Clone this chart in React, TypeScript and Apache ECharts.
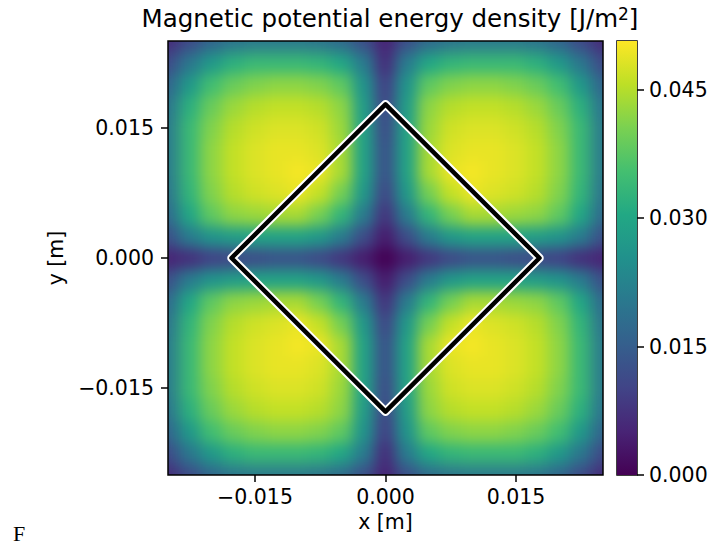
import React, { useEffect, useRef } from 'react';
import * as echarts from 'echarts';

const FONT = '"DejaVu Sans", sans-serif';

// Sampling step of the field (m) and half-width of the plotted square (m)
const STEP = 0.0025;
const HALF = 0.025;

// Energy density [J/m^2] on the first quadrant; each row is one y,
// entries run x = 0, 0.0025, ... 0.025 m. The field is symmetric in x and y.
const ROW_Y_0000 = [0.000, 0.004, 0.008, 0.011, 0.013, 0.013, 0.012, 0.011, 0.010, 0.007, 0.005];
const ROW_Y_0025 = [0.004, 0.012, 0.021, 0.027, 0.029, 0.029, 0.029, 0.028, 0.026, 0.021, 0.012];
const ROW_Y_0050 = [0.008, 0.021, 0.033, 0.040, 0.044, 0.044, 0.043, 0.042, 0.038, 0.030, 0.017];
const ROW_Y_0075 = [0.011, 0.027, 0.040, 0.046, 0.049, 0.048, 0.047, 0.045, 0.041, 0.033, 0.019];
const ROW_Y_0100 = [0.013, 0.029, 0.044, 0.049, 0.050, 0.049, 0.048, 0.046, 0.042, 0.034, 0.020];
const ROW_Y_0125 = [0.013, 0.029, 0.044, 0.048, 0.049, 0.049, 0.048, 0.046, 0.042, 0.034, 0.020];
const ROW_Y_0150 = [0.012, 0.029, 0.043, 0.047, 0.048, 0.048, 0.047, 0.045, 0.041, 0.034, 0.020];
const ROW_Y_0175 = [0.011, 0.028, 0.042, 0.045, 0.046, 0.046, 0.045, 0.043, 0.039, 0.032, 0.019];
const ROW_Y_0200 = [0.010, 0.026, 0.038, 0.041, 0.042, 0.042, 0.041, 0.039, 0.035, 0.027, 0.016];
const ROW_Y_0225 = [0.007, 0.021, 0.030, 0.033, 0.034, 0.034, 0.034, 0.032, 0.027, 0.020, 0.011];
const ROW_Y_0250 = [0.005, 0.012, 0.017, 0.019, 0.020, 0.020, 0.020, 0.019, 0.016, 0.011, 0.006];

const QUADRANT_ROWS = [
  ROW_Y_0000, ROW_Y_0025, ROW_Y_0050, ROW_Y_0075, ROW_Y_0100, ROW_Y_0125,
  ROW_Y_0150, ROW_Y_0175, ROW_Y_0200, ROW_Y_0225, ROW_Y_0250,
];

// Colour scale
const COLOR_MIN = 0;
const COLOR_MAX = 0.0507;
const VIRIDIS = [
  '#440154', '#482475', '#414487', '#355f8d', '#2a788e', '#21918c',
  '#22a884', '#44bf70', '#7ad151', '#bddf26', '#fde725',
];

// Ticks
const X_TICKS = [-0.015, 0, 0.015];
const Y_TICKS = [-0.015, 0, 0.015];
const CBAR_TICKS = [0, 0.015, 0.03, 0.045];

// Square outline (corners on the axes)
const OUTLINE_X = [0.0177, 0, -0.0177, 0, 0.0177];
const OUTLINE_Y = [0, 0.0177, 0, -0.0177, 0];

// Full field, mirrored from the first quadrant
const N = QUADRANT_ROWS.length - 1;
const FIELD: number[][] = [];
for (let j = -N; j <= N; j++) {
  for (let i = -N; i <= N; i++) {
    FIELD.push([i * STEP, j * STEP, QUADRANT_ROWS[Math.abs(j)][Math.abs(i)]]);
  }
}

const fmtTick = (v: number) => (v < 0 ? '\u2212' : '') + Math.abs(v).toFixed(3);

const tickFont = { fontFamily: FONT, fontSize: 20.5, color: '#000' };

function heatOption(): any {
  return {
    animation: false,
    grid: { left: 0, right: 0, top: 0, bottom: 0 },
    xAxis: { type: 'value', min: -HALF, max: HALF, show: false },
    yAxis: { type: 'value', min: -HALF, max: HALF, show: false },
    visualMap: {
      type: 'continuous', min: COLOR_MIN, max: COLOR_MAX, dimension: 2,
      inRange: { color: VIRIDIS }, show: false, seriesIndex: 0,
    },
    series: [
      {
        type: 'custom',
        silent: true,
        clip: true,
        encode: { x: 0, y: 1 },
        data: FIELD,
        renderItem: (_p: any, api: any) => {
          const x = api.value(0);
          const y = api.value(1);
          const a = api.coord([x - STEP / 2, y + STEP / 2]);
          const b = api.coord([x + STEP / 2, y - STEP / 2]);
          return {
            type: 'rect',
            shape: { x: a[0] - 0.5, y: a[1] - 0.5, width: b[0] - a[0] + 1, height: b[1] - a[1] + 1 },
            style: { fill: api.visual('color') },
          };
        },
      },
    ],
  };
}

function mainOption(): any {
  const stops = VIRIDIS.map((c, i) => ({ offset: i / (VIRIDIS.length - 1), color: c }));
  const outline = OUTLINE_X.map((x, i) => [x, OUTLINE_Y[i]]);
  const tick = { show: true, length: 7, lineStyle: { color: '#000', width: 1.5 } };
  return {
    animation: false,
    grid: [
      { left: 168, top: 41, width: 435, height: 434, show: true, borderColor: '#000', borderWidth: 1.5, backgroundColor: 'transparent' },
      { left: 617, top: 41, width: 20, height: 434, show: true, borderColor: '#000', borderWidth: 1.5, backgroundColor: 'transparent' },
    ],
    xAxis: [
      {
        gridIndex: 0, type: 'value', min: -HALF, max: HALF, position: 'bottom',
        splitLine: { show: false }, axisLine: { show: false, onZero: false },
        axisTick: { ...tick, customValues: X_TICKS },
        axisLabel: { customValues: X_TICKS, formatter: fmtTick, margin: 11, ...tickFont },
        name: 'x [m]', nameLocation: 'middle', nameGap: 36,
        nameTextStyle: { ...tickFont },
      },
      { gridIndex: 1, type: 'value', min: 0, max: 1, show: false },
    ],
    yAxis: [
      {
        gridIndex: 0, type: 'value', min: -HALF, max: HALF, position: 'left',
        splitLine: { show: false }, axisLine: { show: false, onZero: false },
        axisTick: { ...tick, customValues: Y_TICKS },
        axisLabel: { customValues: Y_TICKS, formatter: fmtTick, margin: 14, ...tickFont },
        name: 'y [m]', nameLocation: 'middle', nameGap: 102, nameRotate: 90,
        nameTextStyle: { ...tickFont },
      },
      {
        gridIndex: 1, type: 'value', min: COLOR_MIN, max: COLOR_MAX, position: 'right',
        splitLine: { show: false }, axisLine: { show: false, onZero: false },
        axisTick: { ...tick, customValues: CBAR_TICKS },
        axisLabel: { customValues: CBAR_TICKS, formatter: (v: number) => v.toFixed(3), margin: 12, ...tickFont },
      },
    ],
    series: [
      {
        type: 'custom',
        xAxisIndex: 1, yAxisIndex: 1,
        silent: true,
        data: [[0, COLOR_MIN]],
        renderItem: (_p: any, api: any) => {
          const a = api.coord([0, COLOR_MAX]);
          const b = api.coord([1, COLOR_MIN]);
          return {
            type: 'rect',
            shape: { x: a[0], y: a[1], width: b[0] - a[0], height: b[1] - a[1] },
            style: { fill: new echarts.graphic.LinearGradient(0, 1, 0, 0, stops) },
          };
        },
      },
      {
        type: 'line', xAxisIndex: 0, yAxisIndex: 0, data: outline, symbol: 'none', silent: true, z: 3,
        lineStyle: { color: '#fff', width: 8.5, join: 'round', cap: 'round' },
      },
      {
        type: 'line', xAxisIndex: 0, yAxisIndex: 0, data: outline, symbol: 'none', silent: true, z: 4,
        lineStyle: { color: '#000', width: 4.5, join: 'round', cap: 'round' },
      },
    ],
    graphic: [
      {
        type: 'text', x: 390, y: 18,
        style: {
          text: 'Magnetic potential energy density [J/m{sup|2}]',
          fontFamily: FONT, fontSize: 24.5, fill: '#000',
          align: 'center', textAlign: 'center', verticalAlign: 'middle', textVerticalAlign: 'middle',
          rich: { sup: { fontFamily: FONT, fontSize: 17, verticalAlign: 'top', padding: [0, 0, 4, 0], fill: '#000' } },
        },
      },
      {
        type: 'text', x: 13, y: 533,
        style: {
          text: 'F', fontFamily: '"Liberation Serif", serif', fontSize: 22, fill: '#000',
          align: 'left', textAlign: 'left', verticalAlign: 'middle', textVerticalAlign: 'middle',
        },
      },
    ],
  };
}

export default function App() {
  const heatRef = useRef<HTMLDivElement>(null);
  const mainRef = useRef<HTMLDivElement>(null);

  useEffect(() => {
    const heat = echarts.init(heatRef.current!, null, { renderer: 'svg' });
    heat.setOption(heatOption());
    const main = echarts.init(mainRef.current!, null, { renderer: 'svg' });
    main.setOption(mainOption());
    return () => {
      heat.dispose();
      main.dispose();
    };
  }, []);

  return (
    <div style={{ position: 'absolute', left: 0, top: 0, width: 712, height: 548, background: '#fff' }}>
      <svg width="0" height="0" style={{ position: 'absolute' }}>
        <defs>
          <filter id="field-smooth" x="0" y="0" width="1" height="1" colorInterpolationFilters="sRGB">
            <feGaussianBlur stdDeviation="7" />
            <feComponentTransfer>
              <feFuncA type="table" tableValues="1 1" />
            </feComponentTransfer>
          </filter>
        </defs>
      </svg>
      <div style={{ position: 'absolute', left: 168, top: 41, width: 435, height: 434, overflow: 'hidden' }}>
        <div ref={heatRef} style={{ width: 435, height: 434, filter: 'url(#field-smooth)' }} />
      </div>
      <div ref={mainRef} style={{ position: 'absolute', left: 0, top: 0, width: 712, height: 548 }} />
    </div>
  );
}
